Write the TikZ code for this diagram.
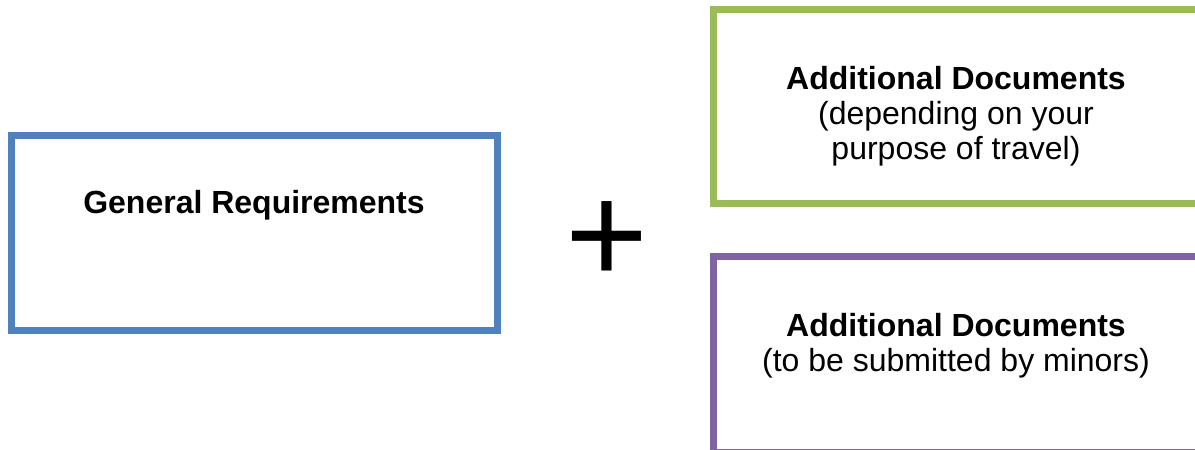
\documentclass[tikz,border=0pt]{standalone}
\usepackage{fontspec}
\setmainfont{Liberation Sans}
\definecolor{reqblue}{HTML}{4F81BD}
\definecolor{docgreen}{HTML}{9BBB59}
\definecolor{docpurple}{HTML}{8064A2}
\begin{document}
\begin{tikzpicture}[x=1pt, y=-1pt, line width=7pt, box node/.style={rectangle,draw,minimum width=485pt,minimum height=194pt,inner sep=0pt}, txt node/.style={align=center,inner sep=0pt,font=\fontsize{32}{35}\selectfont}]%y grows downward
\useasboundingbox (0,0) rectangle (1195,450);
\begin{scope}
\node[box node, draw=reqblue, minimum width=486pt, minimum height=195pt] (req) at (254,233) {};
\node[box node, draw=docgreen] (travel) at (956,106.5) {};
\node[box node, draw=docpurple, minimum height=196pt] (minors) at (956,354.6) {};
\end{scope}
\begin{scope}[every node/.style={txt node}]
\node[anchor=base] (reqtxt) at (254,213.5) {\bfseries General Requirements};
\node[anchor=base] (traveltxt) at (956,159.5) {\bfseries Additional Documents\\(depending on your\\purpose of travel)};
\node[anchor=base] (minorstxt) at (956,371.7) {\bfseries Additional Documents\\(to be submitted by minors)};
\node[anchor=base, font=\fontsize{142}{142}\selectfont] (plus) at (607,283.5) {+};
\end{scope}
\end{tikzpicture}
\end{document}
